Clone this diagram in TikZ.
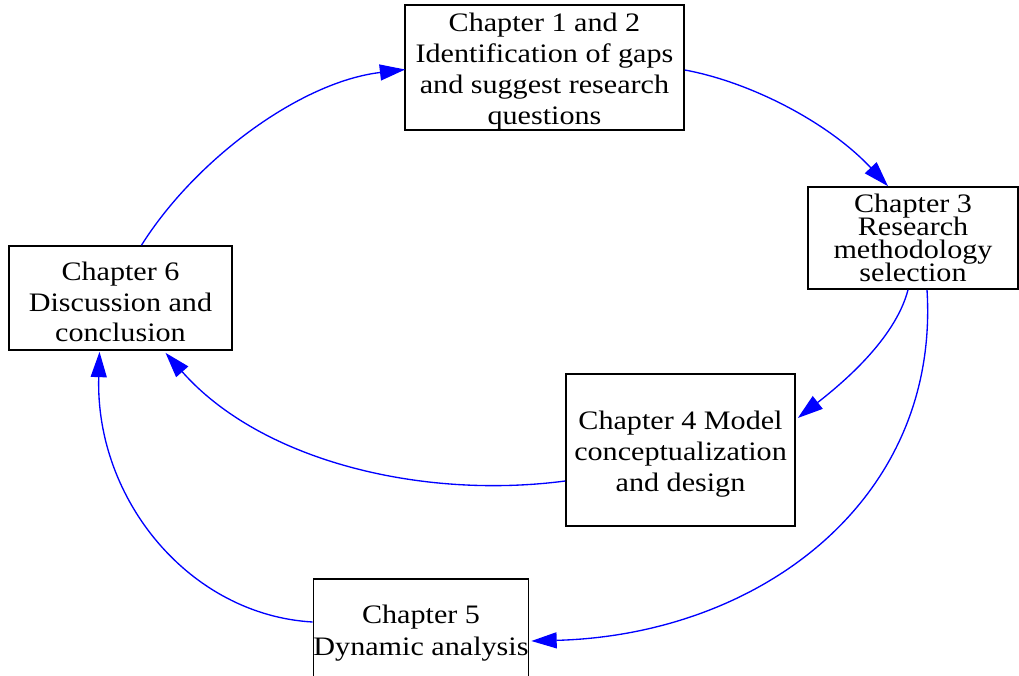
\documentclass[tikz,border=0pt]{standalone}
\usepackage{fontspec}
\setmainfont{Liberation Serif}[FakeStretch=1.13]
\usetikzlibrary{arrows.meta,calc}

% taller first line, so the text block sits slightly lower in its box
\newcommand\topstrut{\rule{0pt}{19.8pt}}
% keep the baseline distance fixed even when lines nearly touch
\newcommand\tightlines{\lineskiplimit=-30pt\relax}

\tikzset{
  chapbox/.style={draw=black, line width=1.2pt, inner sep=0pt, align=center,
    font=\fontsize{20pt}{23.25pt}\selectfont},
  flow/.style={draw=blue, line width=1pt,
    -{Triangle[length=19pt,width=12pt]}, fill=none},
}

\begin{document}
\begin{tikzpicture}[x=0.75pt, y=-0.75pt]
  \useasboundingbox (0,0) rectangle (1019,675);
  \clip (0,0) rectangle (1019,675);

  % chapter boxes
  \node[chapbox, minimum width=209.25pt, minimum height=92.25pt] (c12) at (544.5,67.5)
    {\topstrut Chapter 1 and 2\\Identification of gaps\\and suggest research\\questions};
  \node[chapbox, minimum width=157.5pt, minimum height=76.5pt,
        font=\fontsize{20pt}{17.25pt}\selectfont\tightlines] (c3) at (913,238)
    {Chapter 3\\Research\\methodology\\selection};
  \node[chapbox, minimum width=167.25pt, minimum height=78pt,
        font=\fontsize{20pt}{22.9pt}\selectfont] (c6) at (120.5,298)
    {\topstrut Chapter 6\\Discussion and\\conclusion};
  \node[chapbox, minimum width=171.75pt, minimum height=114pt] (c4) at (680.5,450)
    {\topstrut Chapter 4 Model\\conceptualization\\and design};
  \node[chapbox, minimum width=160.5pt, minimum height=75pt,
        font=\fontsize{20pt}{24pt}\selectfont] (c5) at (421,629)
    {\topstrut Chapter 5\\Dynamic analysis};

  % connectors
  \draw[flow] ($(c12.east)+(0,2.5)$) .. controls (750,82) and (828,122) .. ($(c3.north)+(-25,0)$);
  \draw[flow] ($(c3.south)+(-5,0)$) .. controls (895,340) and (840,385) .. ($(c4.east)+(2,-32)$);
  \draw[flow] ($(c3.south)+(14,0)$) .. controls (940,500) and (760,635) .. ($(c5.east)+(2,12)$);
  \draw[flow] ($(c4.west)+(0,31)$) .. controls (420,500) and (260,460) .. ($(c6.south)+(45,2)$);
  \draw[flow] ($(c5.west)+(0,-7)$) .. controls (190,615) and (95,500) .. ($(c6.south)+(-21,1)$);
  \draw[flow] ($(c6.north)+(21,0)$) .. controls (195,160) and (300,82) .. ($(c12.west)+(1,2)$);
\end{tikzpicture}
\end{document}
